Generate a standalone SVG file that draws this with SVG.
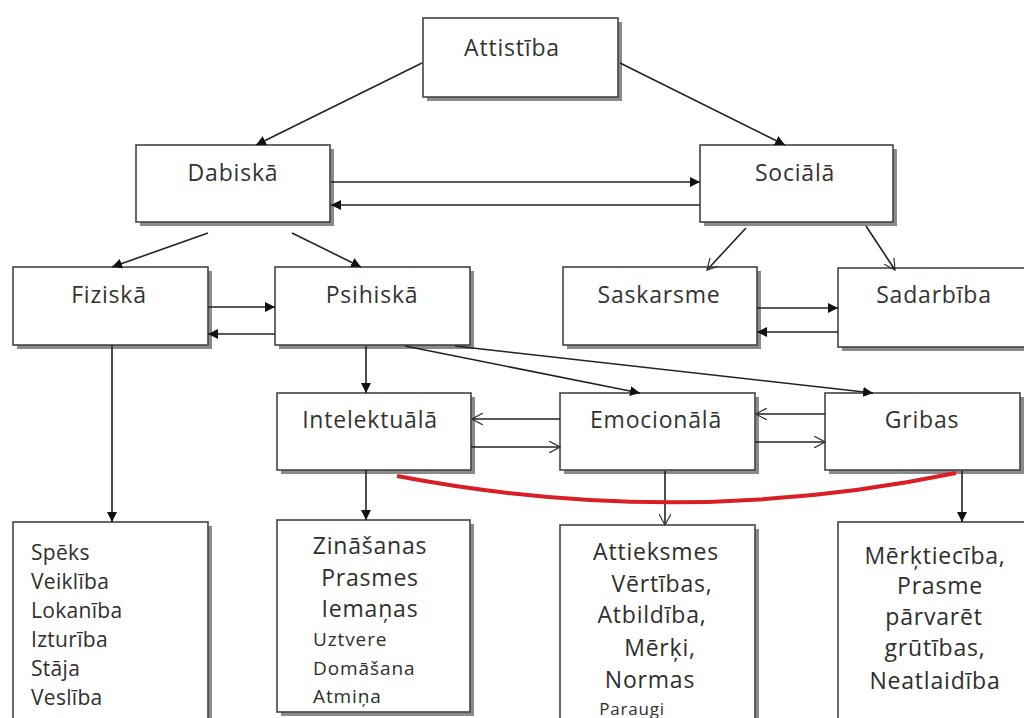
<svg xmlns="http://www.w3.org/2000/svg" width="1024" height="718" viewBox="0 0 1024 718">
  <defs>
    <marker id="solid" viewBox="0 0 10 10" refX="10" refY="5" markerWidth="10" markerHeight="10" markerUnits="userSpaceOnUse" orient="auto">
      <path d="M0,0 L10,5 L0,10 z" fill="#111"/>
    </marker>
    <marker id="open" viewBox="0 0 12 12" refX="11" refY="6" markerWidth="12" markerHeight="12" markerUnits="userSpaceOnUse" orient="auto">
      <path d="M0,0 L11,6 L0,12" fill="none" stroke="#333" stroke-width="1.2"/>
    </marker>
  </defs>
  <style>
    .box { fill: #fff; stroke: #444; stroke-width: 1.6; }
    .shadow { fill: #8a8a8a; }
    .lbl { font-family: "Open Sans", Lato, "Liberation Sans", sans-serif; font-size: 23px; letter-spacing: 0.8px; fill: #333; text-anchor: middle; }
    .item { font-family: "Open Sans", Lato, "Liberation Sans", sans-serif; font-size: 23px; letter-spacing: 0.8px; fill: #2e2e2e; }
    .plain { font-size: 21px; letter-spacing: 0.3px; }
    .small { font-size: 19px; letter-spacing: 0.9px; }
    .tiny { font-size: 17px; letter-spacing: 0.8px; }
    .mid { text-anchor: middle; }
    .edge { fill: none; stroke: #222; stroke-width: 1.6; }
    .solid { marker-end: url(#solid); }
    .open { marker-end: url(#open); }
  </style>
  <rect width="1024" height="718" fill="#fff"/>

  <!-- top level -->
  <g id="attistiba">
    <rect class="shadow" x="427" y="22" width="195" height="79"/>
    <rect class="box" x="423" y="18" width="195" height="79"/>
    <text class="lbl" x="512" y="56">Attistība</text>
  </g>

  <!-- second level -->
  <g id="dabiska">
    <rect class="shadow" x="140" y="149" width="194" height="77"/>
    <rect class="box" x="136" y="145" width="194" height="77"/>
    <text class="lbl" x="233" y="181">Dabiskā</text>
  </g>
  <g id="sociala">
    <rect class="shadow" x="704" y="149" width="193" height="77"/>
    <rect class="box" x="700" y="145" width="193" height="77"/>
    <text class="lbl" x="795" y="181">Sociālā</text>
  </g>

  <!-- third level -->
  <g id="fiziska">
    <rect class="shadow" x="17" y="271" width="195" height="78"/>
    <rect class="box" x="13" y="267" width="195" height="78"/>
    <text class="lbl" x="109" y="303">Fiziskā</text>
  </g>
  <g id="psihiska">
    <rect class="shadow" x="279" y="271" width="195" height="78"/>
    <rect class="box" x="275" y="267" width="195" height="78"/>
    <text class="lbl" x="372" y="303">Psihiskā</text>
  </g>
  <g id="saskarsme">
    <rect class="shadow" x="567" y="271" width="194" height="78"/>
    <rect class="box" x="563" y="267" width="194" height="78"/>
    <text class="lbl" x="659" y="303">Saskarsme</text>
  </g>
  <g id="sadarbiba">
    <rect class="shadow" x="842" y="272" width="200" height="79"/>
    <rect class="box" x="838" y="268" width="200" height="79"/>
    <text class="lbl" x="934" y="303">Sadarbība</text>
  </g>

  <!-- fourth level -->
  <g id="intelektuala">
    <rect class="shadow" x="281" y="397" width="194" height="77"/>
    <rect class="box" x="277" y="393" width="194" height="77"/>
    <text class="lbl" x="370" y="428">Intelektuālā</text>
  </g>
  <g id="emocionala">
    <rect class="shadow" x="564" y="397" width="195" height="77"/>
    <rect class="box" x="560" y="393" width="195" height="77"/>
    <text class="lbl" x="656" y="428">Emocionālā</text>
  </g>
  <g id="gribas">
    <rect class="shadow" x="829" y="397" width="195" height="77"/>
    <rect class="box" x="825" y="393" width="195" height="77"/>
    <text class="lbl" x="922" y="428">Gribas</text>
  </g>

  <!-- detail boxes -->
  <g id="fiziska-saturs">
    <rect class="shadow" x="17" y="526" width="195" height="200"/>
    <rect class="box" x="13" y="522" width="195" height="200"/>
    <text class="item plain" x="31" y="560">Spēks</text>
    <text class="item plain" x="31" y="589">Veiklība</text>
    <text class="item plain" x="31" y="618">Lokanība</text>
    <text class="item plain" x="31" y="647">Izturība</text>
    <text class="item plain" x="31" y="676">Stāja</text>
    <text class="item plain" x="31" y="705">Veslība</text>
  </g>
  <g id="intelektuala-saturs">
    <rect class="shadow" x="281" y="524" width="193" height="192"/>
    <rect class="box" x="277" y="520" width="193" height="192"/>
    <text class="item mid" x="370" y="554">Zināšanas</text>
    <text class="item mid" x="370" y="586">Prasmes</text>
    <text class="item mid" x="370" y="617">Iemaņas</text>
    <text class="item small" x="313" y="646">Uztvere</text>
    <text class="item small" x="313" y="675">Domāšana</text>
    <text class="item small" x="313" y="703">Atmiņa</text>
  </g>
  <g id="emocionala-saturs">
    <rect class="shadow" x="564" y="529" width="195" height="200"/>
    <rect class="box" x="560" y="525" width="195" height="200"/>
    <text class="item mid" x="656" y="560">Attieksmes</text>
    <text class="item mid" x="662" y="592">Vērtības,</text>
    <text class="item mid" x="652" y="623">Atbildība,</text>
    <text class="item mid" x="660" y="656">Mērķi,</text>
    <text class="item mid" x="650" y="688">Normas</text>
    <text class="item tiny mid" x="632" y="715">Paraugi</text>
  </g>
  <g id="gribas-saturs">
    <rect class="shadow" x="842" y="526" width="190" height="200"/>
    <rect class="box" x="838" y="522" width="190" height="200"/>
    <text class="item mid" x="935" y="564">Mērķtiecība,</text>
    <text class="item mid" x="940" y="594">Prasme</text>
    <text class="item mid" x="934" y="625">pārvarēt</text>
    <text class="item mid" x="935" y="656">grūtības,</text>
    <text class="item mid" x="935" y="689">Neatlaidība</text>
  </g>

  <g id="connectors">
    <!-- Attistība splits -->
    <line class="edge solid" x1="422" y1="63" x2="256" y2="145"/>
    <line class="edge solid" x1="620" y1="63" x2="785" y2="145"/>
    <!-- Dabiskā ⇄ Sociālā -->
    <line class="edge solid" x1="331" y1="182" x2="700" y2="182"/>
    <line class="edge solid" x1="700" y1="205" x2="331" y2="205"/>
    <!-- Dabiskā branches -->
    <line class="edge solid" x1="208" y1="233" x2="112" y2="267"/>
    <line class="edge solid" x1="292" y1="233" x2="361" y2="267"/>
    <!-- Sociālā branches -->
    <line class="edge open" x1="746" y1="228" x2="707" y2="270"/>
    <line class="edge open" x1="866" y1="226" x2="895" y2="270"/>
    <!-- Fiziskā ⇄ Psihiskā -->
    <line class="edge solid" x1="208" y1="307" x2="275" y2="307"/>
    <line class="edge solid" x1="275" y1="334" x2="208" y2="334"/>
    <!-- Saskarsme ⇄ Sadarbība -->
    <line class="edge solid" x1="757" y1="308" x2="838" y2="308"/>
    <line class="edge solid" x1="838" y1="332" x2="757" y2="332"/>
    <!-- Psihiskā branches -->
    <line class="edge solid" x1="366" y1="346" x2="366" y2="393"/>
    <line class="edge solid" x1="405" y1="346" x2="640" y2="393"/>
    <line class="edge solid" x1="455" y1="346" x2="873" y2="393"/>
    <!-- Intelektuālā ⇄ Emocionālā ⇄ Gribas -->
    <line class="edge open" x1="560" y1="419" x2="472" y2="419"/>
    <line class="edge open" x1="471" y1="447" x2="560" y2="447"/>
    <line class="edge open" x1="825" y1="414" x2="756" y2="414"/>
    <line class="edge open" x1="755" y1="442" x2="825" y2="442"/>
    <!-- down to detail boxes -->
    <line class="edge solid" x1="112" y1="345" x2="112" y2="522"/>
    <line class="edge solid" x1="366" y1="470" x2="366" y2="520"/>
    <line class="edge open" x1="665" y1="471" x2="665" y2="525"/>
    <line class="edge solid" x1="962" y1="471" x2="962" y2="522"/>
    <!-- red link between the psychic aspects -->
    <path d="M397,476 Q680,530 956,473" fill="none" stroke="#d91f26" stroke-width="4"/>
  </g>
</svg>
